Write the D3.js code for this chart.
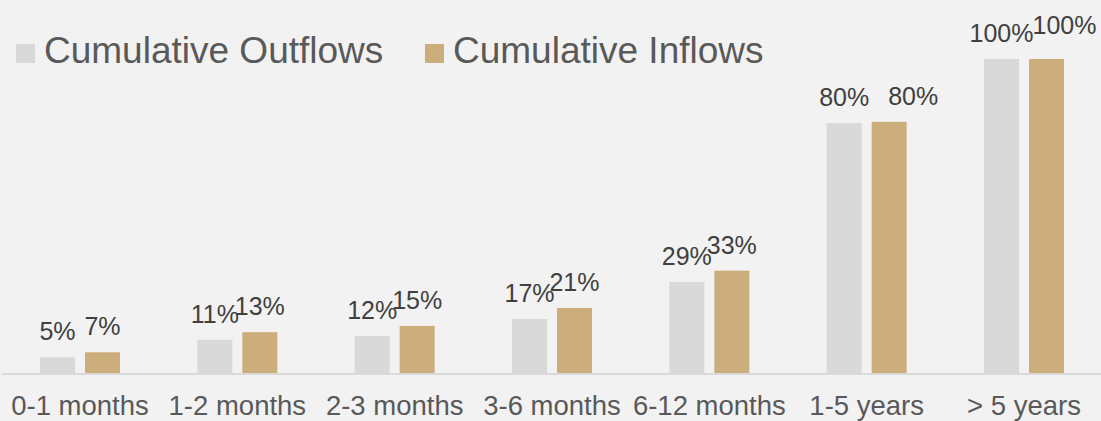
<!DOCTYPE html>
<html>
<head>
<meta charset="utf-8">
<script src="https://cdn.jsdelivr.net/npm/d3@7"></script>
<style>
  html, body { margin: 0; padding: 0; background: #f2f2f2; }
  svg { display: block; font-family: "Liberation Sans", Arial, sans-serif; }
</style>
</head>
<body>
<div id="chart"></div>
<script>

const categories = ["0-1 months", "1-2 months", "2-3 months", "3-6 months", "6-12 months", "1-5 years", "> 5 years"];
const seriesNames = ["Cumulative Outflows", "Cumulative Inflows"];
const outflows = [5, 10.6, 11.8, 17.2, 29, 79.6, 100];
const inflows = [6.6, 13, 15, 20.7, 32.6, 80, 100];

// hand-moved labels in the original (series, category, dx, dy)
const labelNudges = [
    { series: 1, cat: 5, dx: 24, dy: 0 },
    { series: 1, cat: 6, dx: 18, dy: -8 }
];

function drawChart() {

    const dimensions = {
        width: 1101,
        height: 421,
        baseline: 373,
        top: 59
    };

    const colors = ["#d9d9d9", "#ccae7c"];

    const svg = d3.select("#chart")
        .append("svg")
        .attr("width", dimensions.width)
        .attr("height", dimensions.height);

    svg.append("rect")
        .attr("width", dimensions.width)
        .attr("height", dimensions.height)
        .attr("fill", "#f2f2f2");

    const x0 = d3.scaleBand()
        .domain(categories)
        .range([40, 1064])
        .paddingInner(0.4915)
        .paddingOuter(0);

    const x1 = d3.scaleBand()
        .domain(seriesNames)
        .range([0, x0.bandwidth()])
        .paddingInner(0.2222);

    const yScale = d3.scaleLinear()
        .domain([0, 100])
        .range([dimensions.baseline, dimensions.top]);

    const rows = categories.map((c, i) => ({
        cat: c,
        values: [
            { name: seriesNames[0], idx: 0, cat: i, v: outflows[i] },
            { name: seriesNames[1], idx: 1, cat: i, v: inflows[i] }
        ]
    }));

    // baseline
    svg.append("line")
        .attr("x1", 2)
        .attr("x2", dimensions.width)
        .attr("y1", dimensions.baseline + 1)
        .attr("y2", dimensions.baseline + 1)
        .attr("stroke", "#d9d9d9")
        .attr("stroke-width", 2);

    const groups = svg.selectAll("g.cat")
        .data(rows)
        .join("g")
        .attr("class", "cat")
        .attr("transform", d => `translate(${x0(d.cat)}, 0)`);

    groups.selectAll("rect")
        .data(d => d.values)
        .join("rect")
        .attr("x", d => x1(d.name))
        .attr("y", d => yScale(d.v))
        .attr("width", x1.bandwidth())
        .attr("height", d => yScale(0) - yScale(d.v))
        .attr("fill", d => colors[d.idx]);

    const nudge = (d) => labelNudges.find(n => n.series === d.idx && n.cat === d.cat) || { dx: 0, dy: 0 };

    groups.selectAll("text")
        .data(d => d.values)
        .join("text")
        .attr("x", d => x1(d.name) + x1.bandwidth() / 2 + nudge(d).dx)
        .attr("y", d => yScale(d.v) - 17 + nudge(d).dy)
        .attr("text-anchor", "middle")
        .attr("font-size", "25px")
        .attr("fill", "#404040")
        .text(d => Math.round(d.v) + "%");

    // category axis
    const xAxis = d3.axisBottom(x0)
        .tickSize(0);

    const xAxisGroup = svg.append("g")
        .attr("transform", `translate(0, ${dimensions.baseline})`)
        .call(xAxis);

    xAxisGroup.select(".domain").remove();
    xAxisGroup.selectAll("text")
        .attr("y", 42)
        .attr("dy", 0)
        .attr("font-size", "27.5px")
        .attr("font-family", "Liberation Sans, Arial, sans-serif")
        .attr("fill", "#595959");

    // legend
    const legendX = [16, 425];
    const legend = svg.selectAll("g.legend")
        .data(seriesNames)
        .join("g")
        .attr("class", "legend")
        .attr("transform", (d, i) => `translate(${legendX[i]}, 44)`);

    legend.append("rect")
        .attr("width", 19)
        .attr("height", 19)
        .attr("fill", (d, i) => colors[i]);

    legend.append("text")
        .attr("x", 28)
        .attr("y", 19)
        .attr("font-size", "37px")
        .attr("fill", "#595959")
        .text(d => d);
}

drawChart();
</script>
</body>
</html>
